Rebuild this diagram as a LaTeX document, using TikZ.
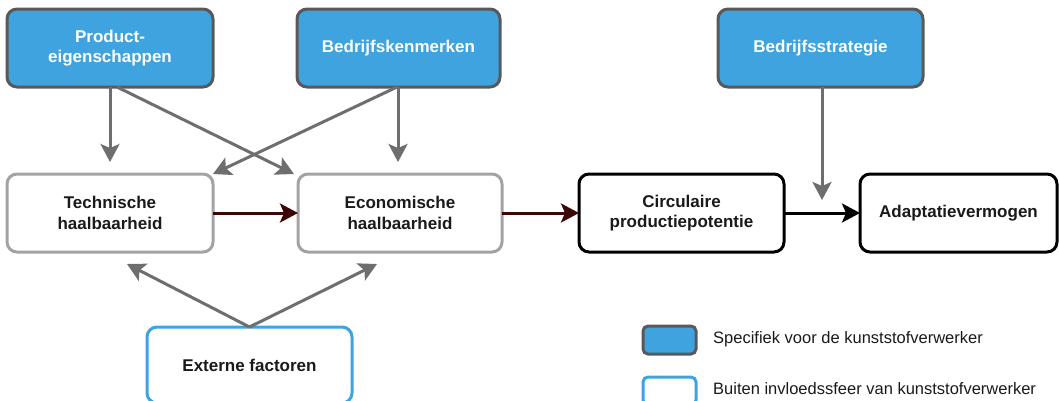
\documentclass[tikz,border=0pt]{standalone}
\usepackage{fontspec}
\setmainfont{Liberation Sans}
\usetikzlibrary{arrows.meta}
\definecolor{bluefill}{HTML}{3EA3DE}
\definecolor{bluedraw}{HTML}{595959}
\definecolor{boxgray}{HTML}{A3A3A3}
\definecolor{arrowgray}{HTML}{6E6E6E}
\definecolor{darkred}{HTML}{3C0606}
\definecolor{txt}{HTML}{1A1A1A}
\tikzset{
  box/.style={rectangle, rounded corners=10pt, line width=3pt, inner sep=0pt, outer sep=0pt,
    minimum width=206pt, minimum height=78pt, align=center,
    font=\fontsize{17}{20.5}\selectfont\bfseries},
  bluebox/.style={box, fill=bluefill, draw=bluedraw, text=white},
  graybox/.style={box, fill=white, draw=boxgray, text=txt},
  blackbox/.style={box, fill=white, draw=black, text=txt},
  extbox/.style={box, fill=white, draw=bluefill, text=txt},
  tipstyle/.style={-{Stealth[length=18pt, width=19pt, inset=4pt]}},
  garrow/.style={draw=arrowgray, line width=3pt, tipstyle},
  rarrow/.style={draw=darkred, line width=3pt, tipstyle},
  karrow/.style={draw=black, line width=3pt, tipstyle},
  legtext/.style={anchor=west, inner sep=0pt, text=txt, font=\fontsize{16.5}{19}\selectfont},
}
\begin{document}
\begin{tikzpicture}[x=1pt, y=-1pt]
\useasboundingbox (0,0) rectangle (1059,400);
% top row
\node[bluebox] (prod) at (110,48) {Product-\\eigenschappen};
\node[bluebox, minimum width=203pt] (bedr) at (398.5,48) {Bedrijfskenmerken};
\node[bluebox, minimum width=205pt] (strat) at (820.5,48) {Bedrijfsstrategie};
% middle row
\node[graybox] (tech) at (110,213) {Technische\\haalbaarheid};
\node[graybox, minimum width=204pt] (econ) at (400,213) {Economische\\haalbaarheid};
\node[blackbox, minimum width=205pt] (circ) at (681.5,213) {Circulaire\\productiepotentie};
\node[blackbox, minimum width=197pt] (adapt) at (958.5,213) {Adaptatievermogen};
% bottom
\node[extbox, minimum width=205pt, minimum height=76pt] (ext) at (249.5,365) {Externe factoren};
% connectors
\draw[garrow, shorten >=12pt] (prod.south) -- (tech.north);
\draw[garrow] ([xshift=7pt]prod.south) -- ([shift={(-4,0)}]econ.north west);
\draw[garrow, shorten >=12pt] ([xshift=-0.5pt]bedr.south) -- ([xshift=-2pt]econ.north);
\draw[garrow] ([xshift=-1.5pt]bedr.south) -- (tech.north east);
\draw[garrow] (ext.north) -- ([shift={(17,12)}]tech.south);
\draw[garrow] (ext.north) -- ([shift={(-23,12)}]econ.south);
\draw[rarrow] (tech.east) -- (econ.west);
\draw[rarrow] (econ.east) -- (circ.west);
\draw[karrow] (circ.east) -- (adapt.west);
\draw[garrow, shorten >=13pt] ([xshift=1.5pt]strat.south) -- ([xshift=1.5pt]strat.south |- adapt.west);
% legend
\node[bluebox, minimum width=53pt, minimum height=28pt, rounded corners=5pt] (leg1) at (669.5,340) {};
\node[legtext] (leg1t) at (713,339.5) {Specifiek voor de kunststofverwerker};
\node[extbox, minimum width=53pt, minimum height=28pt, rounded corners=5pt] (leg2) at (669.5,391) {};
\node[legtext] (leg2t) at (713,388.5) {Buiten invloedssfeer van kunststofverwerker};
\end{tikzpicture}
\end{document}
